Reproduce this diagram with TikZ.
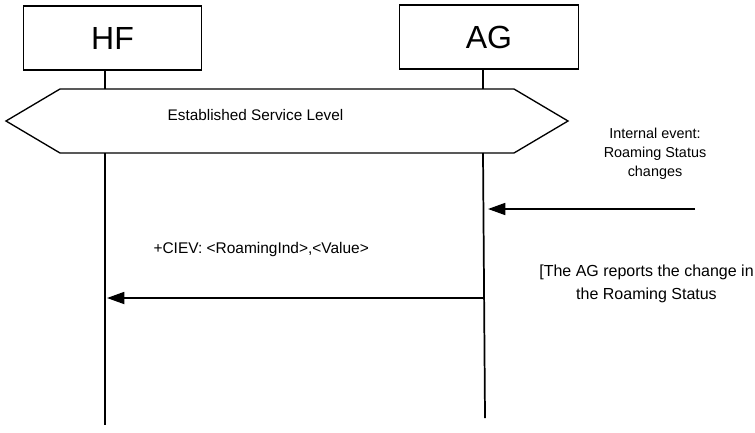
\documentclass[tikz,border=0pt]{standalone}
\usepackage{fontspec}
\setmainfont{Liberation Sans}
\usetikzlibrary{arrows.meta}

\tikzset{every picture/.style={line width=0.75pt}}
\tikzset{
  entitybox/.style={draw, line width=0.8pt, minimum width=134pt, minimum height=48pt, inner sep=0pt, font=\fontsize{24}{28}\selectfont},
  lifeline/.style={line width=1.3pt},
  msgarrow/.style={line width=1.3pt, -{Triangle[length=13pt, width=9pt]}},
  notetext/.style={inner sep=0.75pt, align=center}
}

\begin{document}
\begin{tikzpicture}[x=0.75pt,y=0.75pt,yscale=-1,xscale=1]
\useasboundingbox (0,0) rectangle (755,432);

%Shape: Rectangle [id:hf]
\node [entitybox] (hf) at (112.5,38) {HF};
%Shape: Rectangle [id:ag]
\node [entitybox] (ag) at (489,37) {AG};

%Lifeline points
\coordinate (hf top) at (105,70);
\coordinate (hf hexa) at (105,89);
\coordinate (hf hexb) at (105,153);
\coordinate (hf end) at (105,425);
\coordinate (ag top) at (483,70);
\coordinate (ag hexa) at (483,89);
\coordinate (ag hexb) at (483,153);
\coordinate (ag end) at (485,418);

%Straight Lines [id:lifelines]
\draw [lifeline] (hf top) -- (hf hexa) ;
\draw [lifeline] (hf hexb) -- (hf end) ;
\draw [lifeline] (ag top) -- (ag hexa) ;
\draw [lifeline] (ag hexb) -- (ag end) ;

%Shape: Hexagon [id:service]
\draw [line width=1pt] (6,121) -- (60,89) -- (514,89) -- (568,121) -- (514,153) -- (60,153) -- cycle ;

% Text Node
\node [notetext, font=\fontsize{11.5}{14}\selectfont] (level) at (255.5,115) {Established Service Level};
% Text Node
\node [notetext, font=\fontsize{10.8}{14.2}\selectfont] (event) at (655,154) {Internal event:\\Roaming Status\\changes};
% Text Node
\node [notetext, anchor=west, font=\fontsize{11.6}{14}\selectfont] (ciev) at (152,249) {+CIEV: <RoamingInd>,<Value>};
% Text Node
\node [notetext, font=\fontsize{12}{17}\selectfont] (report) at (646.5,284) {[The AG reports the change in\\the Roaming Status};

%Arrows
\coordinate (event start) at (695,209);
\coordinate (event end) at (488,209);
\coordinate (ciev start) at (483,298);
\coordinate (ciev end) at (107,298);
\draw [msgarrow] (event start) -- (event end) ;
\draw [msgarrow] (ciev start) -- (ciev end) ;

\end{tikzpicture}
\end{document}
